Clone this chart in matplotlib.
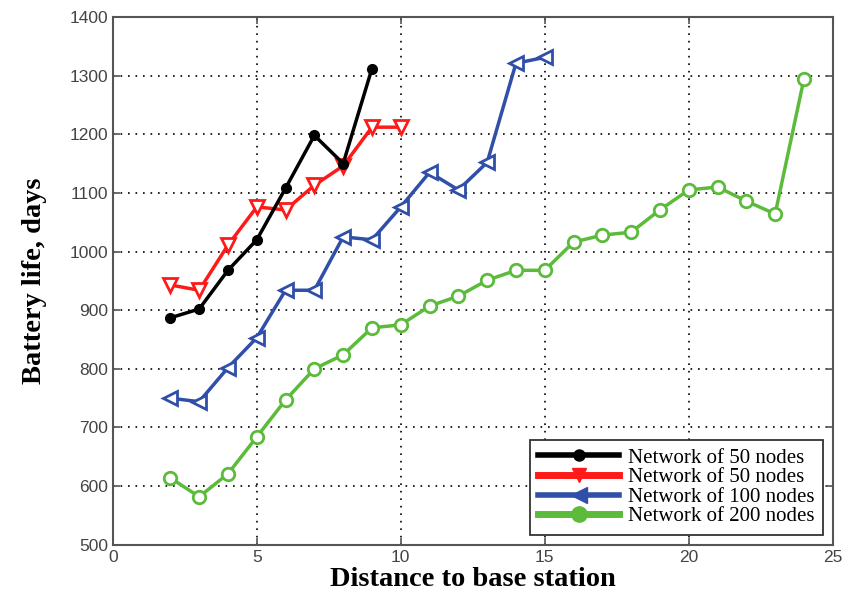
import numpy as np
import matplotlib.pyplot as plt
from matplotlib.lines import Line2D

# distance to base station
x_black = [2, 3, 4, 5, 6, 7, 8, 9]
y_black = [887, 902, 968, 1020, 1108, 1198, 1150, 1312]

x_red = [2, 3, 4, 5, 6, 7, 8, 9, 10]
y_red = [943, 934, 1011, 1076, 1071, 1113, 1146, 1212, 1212]

x_blue = list(range(2, 16))
y_blue = [750, 744, 802, 853, 934, 934, 1025, 1020, 1076, 1135, 1105, 1152, 1321, 1331]

x_green = list(range(2, 25))
y_green = [614, 582, 621, 684, 747, 800, 824, 870, 875, 907, 924, 951, 968, 968,
           1016, 1028, 1033, 1071, 1105, 1110, 1086, 1064, 1294]

labels = ['Network of 50 nodes', 'Network of 50 nodes',
          'Network of 100 nodes', 'Network of 200 nodes']

c_black = 'black'
c_red = '#ff1a1a'
c_blue = '#2f4fa8'
c_green = '#5cbb3a'

fig = plt.figure(figsize=(8.48, 6.04), dpi=100)
ax = fig.add_axes([0.133, 0.098, 0.849, 0.874])

ax.plot(x_black, y_black, color=c_black, lw=2.5, marker='o', ms=7,
        mfc=c_black, mec=c_black, zorder=5)
ax.plot(x_red, y_red, color=c_red, lw=2.5, marker='v', ms=10,
        mfc='white', mec=c_red, mew=2, zorder=4)
ax.plot(x_blue, y_blue, color=c_blue, lw=2.5, marker='<', ms=10,
        mfc='white', mec=c_blue, mew=2, zorder=3)
ax.plot(x_green, y_green, color=c_green, lw=2.5, marker='o', ms=9,
        mfc='white', mec=c_green, mew=2, zorder=2)

ax.set_xlim(0, 25)
ax.set_ylim(500, 1400)
ax.set_xticks(np.arange(0, 26, 5))
ax.set_yticks(np.arange(500, 1401, 100))
ax.grid(True, linestyle=(0, (1, 3.5)), color='black', lw=1.2)

for s in ax.spines.values():
    s.set_color('#555555')
    s.set_linewidth(1.5)
ax.tick_params(direction='in', length=5, width=1.2, colors='#555555',
               labelsize=12.5, labelcolor='#444444', top=True, right=True)
for t in ax.get_xticklabels() + ax.get_yticklabels():
    t.set_family('Liberation Sans')

ax.set_xlabel('Distance to base station', family='Liberation Serif',
              fontweight='bold', fontsize=20.5, labelpad=2)
ax.set_ylabel('Battery life, days', family='Liberation Serif',
              fontweight='bold', fontsize=20.5, labelpad=16)

handles = [
    Line2D([], [], color=c_black, lw=4, marker='o', ms=8, mfc=c_black),
    Line2D([], [], color=c_red, lw=5, marker='v', ms=10, mfc=c_red),
    Line2D([], [], color=c_blue, lw=4, marker='<', ms=12, mfc=c_blue),
    Line2D([], [], color=c_green, lw=5, marker='o', ms=11, mfc=c_green),
]
leg = ax.legend(handles, labels, loc='lower right', fancybox=False,
                prop={'family': 'Liberation Serif', 'size': 15},
                handlelength=3.9, labelspacing=0.0, borderpad=0.4,
                handletextpad=0.4, borderaxespad=0,
                bbox_to_anchor=(0.986, 0.019))
leg.get_frame().set_edgecolor('#333333')
leg.get_frame().set_linewidth(1.3)
leg.get_frame().set_alpha(1)

fig.savefig('out.png', dpi=100)
